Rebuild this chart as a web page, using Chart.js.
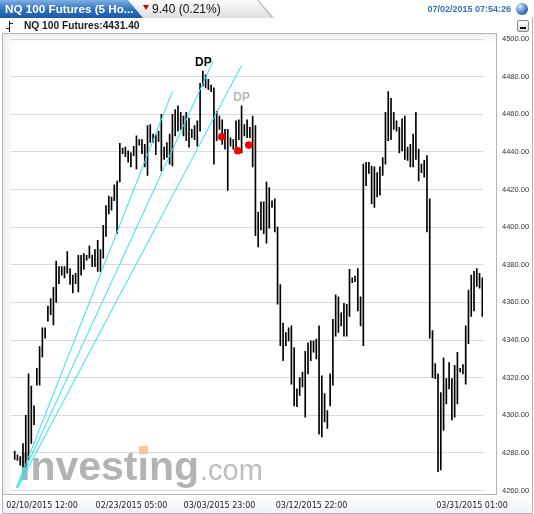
<!DOCTYPE html>
<html>
<head>
<meta charset="utf-8">
<script src="https://cdn.jsdelivr.net/npm/chart.js@4.4.0/dist/chart.umd.min.js"></script>
<style>
  html, body { margin: 0; padding: 0; background: #fff; }
  #wrap { position: relative; width: 534px; height: 514px; overflow: hidden; font-family: Arial, "Liberation Sans", sans-serif; }
  #grafico { position: absolute; left: 0; top: 0; }
  .tabAzul { position: absolute; left: 0; top: 0; width: 143px; height: 18px;
    background: linear-gradient(#7eb0e4, #2f6fba 55%, #1c5aa4);
    clip-path: polygon(0 0, 128px 0, 143px 18px, 0 18px); }
  .tabGris { position: absolute; left: 120px; top: 0; width: 155px; height: 18px;
    background: linear-gradient(#fbfbfb, #dedede);
    clip-path: polygon(0 0, 137px 0, 155px 18px, 0 18px); }
  .tabBorde { position: absolute; left: 257px; top: 0; width: 1px; height: 23px; background: #a8a8a8;
    transform-origin: 0 0; transform: rotate(-40deg); }
  .titulo { position: absolute; left: 5px; top: 2px; color: #fff; font-weight: bold; font-size: 11.7px; white-space: nowrap; }
  .tri { position: absolute; left: 143px; top: 5px; width: 0; height: 0;
    border-left: 3.5px solid transparent; border-right: 3.5px solid transparent; border-top: 5px solid #d00000; }
  .cambio { position: absolute; left: 152px; top: 2px; color: #111; font-size: 12px; white-space: nowrap; }
  .hora { position: absolute; right: 23px; top: 4px; color: #3570b8; font-weight: bold; font-size: 9px; white-space: nowrap; }
  .globo { position: absolute; left: 516px; top: 3px; width: 12px; height: 12px; border-radius: 50%;
    background: radial-gradient(circle at 35% 30%, #e8f2ff 0, #8cb8ea 25%, #2a63a8 70%, #1b4680 100%); }
  .nombre { position: absolute; left: 24px; top: 20px; color: #1a1a1a; font-weight: bold; font-size: 10.2px; white-space: nowrap; }
  .ico1 { position: absolute; left: 9px; top: 21px; width: 1px; height: 11px; background: #111; }
  .ico2 { position: absolute; left: 6px; top: 28px; width: 3px; height: 1px; background: #111; }
  .ico3 { position: absolute; left: 10px; top: 23px; width: 3px; height: 1px; background: #111; }
  .mini { position: absolute; left: 517px; top: 20px; width: 10px; height: 10px; border: 1px solid #8a8a8a; border-radius: 2px;
    background: linear-gradient(#ffffff, #d8d8d8); }
  .mini i { position: absolute; left: 2px; top: 6px; width: 6px; height: 2px; background: #111; }
</style>
</head>
<body>
<div id="wrap">
  <canvas id="grafico" width="534" height="514"></canvas>
  <div class="tabGris"></div>
  <div class="tabBorde"></div>
  <div class="tabAzul"></div>
  <div class="titulo">NQ 100 Futures (5 Ho...</div>
  <div class="tri"></div>
  <div class="cambio">9.40 (0.21%)</div>
  <div class="hora">07/02/2015 07:54:26</div>
  <div class="globo"></div>
  <div class="ico1"></div><div class="ico2"></div><div class="ico3"></div>
  <div class="nombre">NQ 100 Futures:4431.40</div>
  <div class="mini"><i></i></div>
</div>
<script>
// maximos y minimos de cada vela de 5 horas
const maximos = [
  4281, 4279, 4278, 4285, 4300, 4322, 4315.5, 4305, 4325, 4336.5,
  4346.5, 4346.5, 4358, 4362, 4368, 4382, 4379, 4379, 4379, 4387,
  4378, 4374.5, 4375.5, 4385, 4385, 4386, 4385, 4390, 4385, 4388,
  4393, 4388, 4401, 4411.5, 4416.5, 4416, 4422.5, 4424.5, 4444.5, 4442,
  4442.5, 4440.5, 4439.5, 4443, 4448.5, 4446.5, 4446.5, 4444, 4454, 4454.5,
  4449.5, 4449, 4451, 4460, 4442.5, 4445, 4449.5, 4460, 4462.5, 4464.5,
  4461, 4459, 4461, 4458, 4452, 4454, 4456.5, 4476.5, 4483, 4481,
  4478.5, 4475.5, 4474, 4461.5, 4459, 4457, 4452, 4452, 4447.5, 4446.5,
  4456.5, 4457, 4464.5, 4454.5, 4457, 4453, 4459, 4454, 4408, 4413.5,
  4413.5, 4424, 4421, 4414, 4415, 4400, 4369.5, 4349, 4344, 4346.5,
  4347.5, 4336, 4314, 4320, 4323, 4334, 4338.5, 4339.5, 4339.5, 4340.5,
  4347.5, 4321, 4311.5, 4302.5, 4322, 4351, 4364, 4363, 4354.5, 4359.5,
  4359, 4377.5, 4373, 4374, 4378, 4363, 4433.5, 4434.5, 4434.5, 4432.5,
  4432, 4429, 4432, 4437, 4461, 4472, 4468.5, 4461, 4456.5, 4453,
  4457.5, 4459, 4442.5, 4444, 4449.5, 4461, 4441.5, 4433.5, 4435.5, 4438,
  4415, 4345, 4327.5, 4322, 4312, 4330.5, 4319.5, 4328, 4319.5, 4326.5,
  4333.5, 4325, 4327, 4347.5, 4366.5, 4374.5, 4376.5, 4378, 4375.5, 4373
];
const minimos = [
  4276.5, 4276, 4273.5, 4272.5, 4272.5, 4276.5, 4285, 4295, 4316, 4316,
  4331, 4341, 4350, 4353.5, 4348, 4360, 4370, 4374.5, 4373, 4375.5,
  4369.5, 4365, 4370, 4365.5, 4374.5, 4377.5, 4382.5, 4383.5, 4379, 4379,
  4376.5, 4376.5, 4383.5, 4395, 4407, 4409, 4414, 4396.5, 4424, 4439,
  4437.5, 4434.5, 4432, 4438, 4431, 4443.5, 4439, 4432, 4427.5, 4445,
  4445, 4438.5, 4445.5, 4430, 4436, 4437, 4433.5, 4432.5, 4448.5, 4451,
  4452, 4448.5, 4446, 4442.5, 4447.5, 4446.5, 4443, 4451, 4475, 4474,
  4473, 4472, 4433.5, 4446, 4452, 4444, 4441.5, 4419.5, 4443, 4441.5,
  4440.5, 4446.5, 4439.5, 4448.5, 4447.5, 4447.5, 4432, 4395.5, 4389.5, 4398.5,
  4396.5, 4391.5, 4399.5, 4410.5, 4397.5, 4359, 4337, 4329, 4337, 4339.5,
  4316.5, 4305, 4304.5, 4310.5, 4315, 4299, 4322, 4329, 4333.5, 4330,
  4290, 4288.5, 4296.5, 4293, 4305, 4316, 4342, 4344, 4347.5, 4342,
  4342, 4352.5, 4370.5, 4371, 4355.5, 4347.5, 4337, 4422, 4428.5, 4412.5,
  4410.5, 4416, 4417, 4427.5, 4433.5, 4446, 4446.5, 4452, 4451, 4439.5,
  4440.5, 4436, 4435.5, 4432, 4432, 4436, 4424.5, 4429, 4426.5, 4397.5,
  4341, 4320, 4319.5, 4270, 4271, 4292, 4306, 4314, 4297.5, 4299,
  4306, 4323, 4322, 4316.5, 4338, 4352.5, 4355.5, 4368.5, 4367.5, 4352.5
];

// lineas de tendencia (indice de vela, precio)
const linea1 = [[0.65, 4261.5], [56.96, 4472]];
const linea2 = [[0.76, 4261.5], [71.67, 4488]];
const linea3 = [[1.05, 4261.5], [82.04, 4486]];

// puntos rojos
const puntosX = [74.8, 80.6, 84.6];
const puntosY = [4448, 4440.6, 4443.6];

// etiquetas DP
const etiquetasDP = [
  { x: 68.2, y: 4487.6, texto: "DP", color: "#000" },
  { x: 82.0, y: 4469, texto: "DP", color: "#b8b8b8" },
];

// eje x
const ticksX = [9.87, 42.2, 74.0, 107.3, 165.3];
const etiquetasX = [
  "02/10/2015 12:00",
  "02/23/2015 05:00",
  "03/03/2015 23:00",
  "03/12/2015 22:00",
  "03/31/2015 01:00",
];
const ejeYMin = 4260;
const ejeYMax = 4500;
const pasoY = 20;

const velas = maximos.map((h, i) => ({ x: i, y: [minimos[i], h] }));
const aPuntos = (arr) => arr.map((p) => ({ x: p[0], y: p[1] }));

// fondo, marco y marca de agua
const fondo = {
  id: "fondo",
  beforeDraw(chart) {
    const c = chart.ctx;
    c.save();
    c.fillStyle = "#fff";
    c.fillRect(0, 0, 534, 514);
    // gradientes del area del grafico
    let g = c.createLinearGradient(3, 0, 13, 0);
    g.addColorStop(0, "#ececec");
    g.addColorStop(1, "#ffffff");
    c.fillStyle = g;
    c.fillRect(3, 34, 10, 460);
    g = c.createLinearGradient(0, 34, 0, 48);
    g.addColorStop(0, "#ededed");
    g.addColorStop(1, "rgba(255,255,255,0)");
    c.fillStyle = g;
    c.fillRect(3, 34, 493, 14);
    // fila de fechas
    g = c.createLinearGradient(0, 495, 0, 513);
    g.addColorStop(0, "#ffffff");
    g.addColorStop(1, "#eef2f8");
    c.fillStyle = g;
    c.fillRect(3, 495, 528, 18);
    // marcos
    c.strokeStyle = "#b4b4b4";
    c.lineWidth = 1;
    c.strokeRect(2.5, 33.5, 494, 461);
    c.beginPath();
    c.moveTo(2.5, 494);
    c.lineTo(2.5, 513.5);
    c.lineTo(532.5, 513.5);
    c.lineTo(532.5, 17);
    c.stroke();
    c.restore();
  },
  beforeDatasetsDraw(chart) {
    const c = chart.ctx;
    c.save();
    c.textBaseline = "alphabetic";
    c.font = "bold 41px 'Liberation Sans', Arial, sans-serif";
    c.fillStyle = "#b3b3b3";
    c.fillText("Investing", 19, 480);
    const w = c.measureText("Investing").width;
    c.font = "29px 'Liberation Sans', Arial, sans-serif";
    c.fillStyle = "#bdbdbd";
    c.fillText(".com", 19 + w + 1, 480);
    c.fillStyle = "#f6c893";
    c.fillRect(139, 446, 9, 8);
    c.restore();
  },
  afterDatasetsDraw(chart) {
    const c = chart.ctx;
    const sx = chart.scales.x;
    const sy = chart.scales.y;
    c.save();
    c.textAlign = "center";
    c.textBaseline = "middle";
    c.font = "bold 12px 'Liberation Sans', Arial, sans-serif";
    etiquetasDP.forEach((d) => {
      c.fillStyle = d.color;
      c.fillText(d.texto, sx.getPixelForValue(d.x), sy.getPixelForValue(d.y));
    });
    c.restore();
  },
};

const lineaCian = (datos) => ({
  type: "line",
  data: aPuntos(datos),
  borderColor: "#1fe8f6",
  borderWidth: 1,
  pointRadius: 0,
  order: 1,
});

new Chart(document.getElementById("grafico"), {
  type: "bar",
  data: {
    datasets: [
      {
        data: puntosX.map((x, i) => ({ x: x, y: puntosY[i] })),
        type: "scatter",
        backgroundColor: "#ff0000",
        borderWidth: 0,
        pointRadius: 3.8,
        order: 0,
      },
      lineaCian(linea1),
      lineaCian(linea2),
      lineaCian(linea3),
      {
        data: velas,
        backgroundColor: "#000",
        borderWidth: 0,
        barThickness: 1,
        order: 2,
      },
    ],
  },
  options: {
    responsive: false,
    animation: false,
    layout: { padding: { left: 11, top: 39, right: 0, bottom: 0 } },
    plugins: { legend: { display: false }, tooltip: { enabled: false } },
    scales: {
      x: {
        type: "linear",
        min: -1.337,
        max: 169.25,
        offset: false,
        grid: { display: false },
        border: { display: false },
        afterBuildTicks: (s) => {
          s.ticks = ticksX.map((v) => ({ value: v }));
        },
        afterFit: (s) => {
          s.height = 20;
        },
        ticks: {
          autoSkip: false,
          maxRotation: 0,
          padding: 3,
          color: "#222",
          font: { family: "'DejaVu Sans'", size: 8 },
          callback: (v, i) => etiquetasX[i],
        },
      },
      y: {
        position: "right",
        min: ejeYMin,
        max: ejeYMax,
        grid: { color: "#d9d9d9", drawTicks: false },
        border: { display: false },
        afterFit: (s) => {
          s.width = 51;
        },
        ticks: {
          stepSize: pasoY,
          padding: 19,
          color: "#333",
          font: { family: "'Liberation Sans'", size: 7.5 },
          callback: (v) => v.toFixed(2),
        },
      },
    },
  },
  plugins: [fondo],
});
</script>
</body>
</html>
